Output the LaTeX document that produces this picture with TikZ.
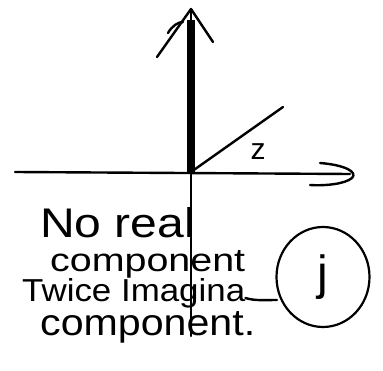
\documentclass[tikz,border=0pt]{standalone}
\usepackage{fontspec}
\setmainfont{Liberation Sans}
\usetikzlibrary{shapes.geometric}
\begin{document}
\begin{tikzpicture}[x=1pt,y=-1pt,
  ink/.style={line width=2.4pt,line cap=round,line join=round},
  hand/.style={anchor=base west,inner sep=0pt}]
\useasboundingbox (0,0) rectangle (383,371);
\coordinate (O) at (191,172);
\coordinate (T) at (191,9);
\coordinate (B) at (191,336);
\coordinate (L) at (15,172);
\coordinate (R) at (350,174);
\coordinate (D) at (283,107);
% vertical axis
\draw[ink] (O) -- (B);
\draw[line width=8pt] (191,172) -- (191,20);
\draw[ink] (T) -- (O);
\draw[ink] (157,57) -- (T) -- (213,42);
\draw[ink] (168,33) .. controls (172,26) and (178,22) .. (183,22);
% horizontal axis
\draw[ink] (L) -- (R);
\draw[ink] (320,163) .. controls (345,165) and (358,172) .. (352,178) .. controls (345,184) and (325,186) .. (310,185);
% vector
\draw[ink] (O) -- (D);
\node[inner sep=0pt,font=\fontsize{30}{30}\selectfont] (z) at (258,152) {z};
% text
\node[hand] (t1) at (40,238) {\resizebox{155pt}{30pt}{No real}};
\node[hand] (t2) at (50,272) {\resizebox{195pt}{21pt}{component}};
\node[hand] (t3) at (22,302) {\resizebox{223pt}{23pt}{Twice Imagina}};
\draw[ink] (t3.base east) ++(0,-4) .. controls (255,301) and (265,300) .. (277,300);
\node[hand] (t4) at (40,335) {\resizebox{215pt}{24pt}{component.}};
% circled j
\node[draw,ellipse,line width=2.2pt,minimum width=93pt,minimum height=100pt,inner sep=0pt,font=\fontsize{48}{48}\selectfont] (j) at (323,277) {j};
\end{tikzpicture}
\end{document}
